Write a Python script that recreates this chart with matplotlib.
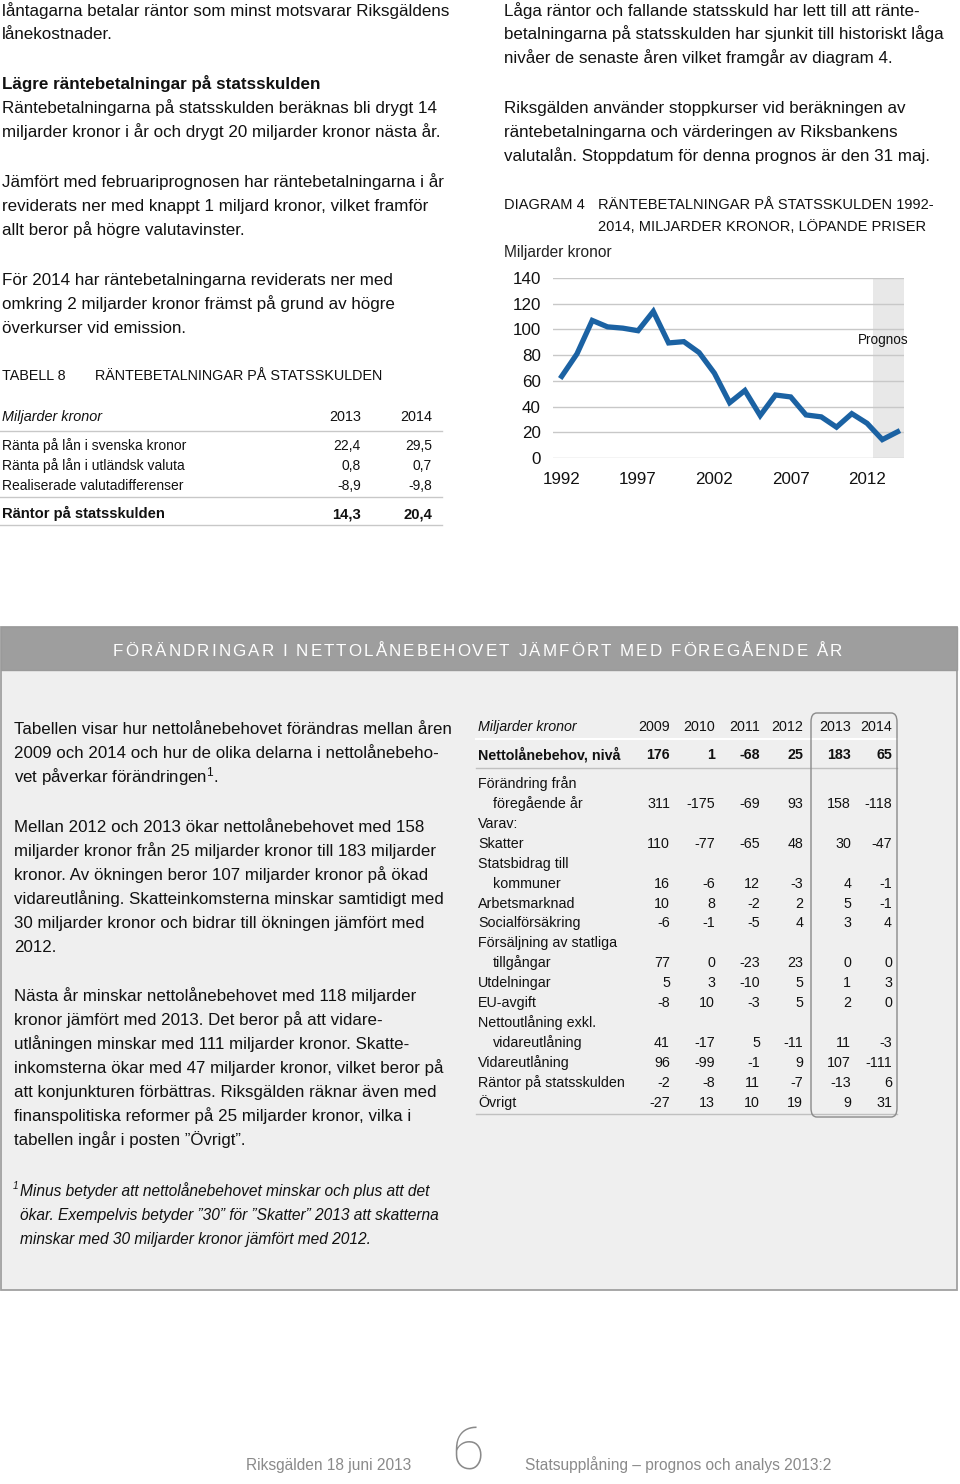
import matplotlib
matplotlib.use("Agg")
import matplotlib.pyplot as plt
from matplotlib.patches import Rectangle, FancyBboxPatch
from matplotlib.font_manager import FontProperties

# ---------------- data ----------------
years = list(range(1992, 2015))
interest = [63.5, 81, 107, 102, 101, 99, 114, 89.5, 90.5, 82, 66, 43, 52.5, 33,
            49, 47.5, 33.5, 32, 24, 34.5, 27, 14.3, 20.4]
yticks = [0, 20, 40, 60, 80, 100, 120, 140]
xticks = [1992, 1997, 2002, 2007, 2012]

tab8_cols = ["2013", "2014"]
tab8_rows = ["Ränta på lån i svenska kronor", "Ränta på lån i utländsk valuta",
             "Realiserade valutadifferenser"]
tab8_vals = [["22,4", "29,5"], ["0,8", "0,7"], ["-8,9", "-9,8"]]
tab8_total = ["Räntor på statsskulden", "14,3", "20,4"]

nl_years = ["2009", "2010", "2011", "2012", "2013", "2014"]
nl_level = ["Nettolånebehov, nivå", "176", "1", "-68", "25", "183", "65"]
nl_rows = [
    ("Förändring från", None, False),
    ("föregående år", ["311", "-175", "-69", "93", "158", "-118"], True),
    ("Varav:", None, False),
    ("Skatter", ["110", "-77", "-65", "48", "30", "-47"], False),
    ("Statsbidrag till", None, False),
    ("kommuner", ["16", "-6", "12", "-3", "4", "-1"], True),
    ("Arbetsmarknad", ["10", "8", "-2", "2", "5", "-1"], False),
    ("Socialförsäkring", ["-6", "-1", "-5", "4", "3", "4"], False),
    ("Försäljning av statliga", None, False),
    ("tillgångar", ["77", "0", "-23", "23", "0", "0"], True),
    ("Utdelningar", ["5", "3", "-10", "5", "1", "3"], False),
    ("EU-avgift", ["-8", "10", "-3", "5", "2", "0"], False),
    ("Nettoutlåning exkl.", None, False),
    ("vidareutlåning", ["41", "-17", "5", "-11", "11", "-3"], True),
    ("Vidareutlåning", ["96", "-99", "-1", "9", "107", "-111"], False),
    ("Räntor på statsskulden", ["-2", "-8", "11", "-7", "-13", "6"], False),
    ("Övrigt", ["-27", "13", "10", "19", "9", "31"], False),
]

W, H = 960, 1484
plt.rcParams['font.family'] = ['Liberation Sans', 'DejaVu Sans']
plt.rcParams['mathtext.fontset'] = 'custom'
plt.rcParams['mathtext.rm'] = 'Liberation Sans'
plt.rcParams['mathtext.it'] = 'Liberation Sans:italic'
fig = plt.figure(figsize=(W / 100, H / 100), dpi=100)
fig.patch.set_facecolor("white")

def fx(x):
    return x / W

def fy(y):
    return 1 - y / H

def pt(px):
    return px * 0.72

def T(x, yc, s, px=16, ha='left', **kw):
    # yc = approximate visual center of text line (pixel, from top)
    fig.text(fx(x), fy(yc + 0.36 * px), s, fontsize=pt(px), ha=ha, va='baseline', **kw)

def HL(x0, x1, y, color="#c8c8c8", lw=1.0, z=3):
    fig.add_artist(plt.Line2D([fx(x0), fx(x1)], [fy(y), fy(y)], color=color, lw=lw,
                              transform=fig.transFigure, zorder=z))

# ---------------- top-left text ----------------
BODY = 17
left_lines = [
    (10, "låntagarna betalar räntor som minst motsvarar Riksgäldens", 'normal'),
    (33, "lånekostnader.", 'normal'),
    (83, "Lägre räntebetalningar på statsskulden", 'bold'),
    (107, "Räntebetalningarna på statsskulden beräknas bli drygt 14", 'normal'),
    (131, "miljarder kronor i år och drygt 20 miljarder kronor nästa år.", 'normal'),
    (181, "Jämfört med februariprognosen har räntebetalningarna i år", 'normal'),
    (205, "reviderats ner med knappt 1 miljard kronor, vilket framför", 'normal'),
    (229, "allt beror på högre valutavinster.", 'normal'),
    (279, "För 2014 har räntebetalningarna reviderats ner med", 'normal'),
    (303, "omkring 2 miljarder kronor främst på grund av högre", 'normal'),
    (327, "överkurser vid emission.", 'normal'),
]
for yc, s, w in left_lines:
    T(2, yc, s, BODY, weight=w, color="#111111")

# Table 8
T(2, 375, "TABELL 8", 14.4, color="#111111")
T(95, 375, "RÄNTEBETALNINGAR PÅ STATSSKULDEN", 14.4, color="#111111")
T(2, 416, "Miljarder kronor", 14.4, style='italic', color="#111111")
col8 = [361, 432]
for c, lab in zip(col8, tab8_cols):
    T(c, 416, lab, 14.4, ha='right', color="#111111")
HL(0, 442, 431)
for i, (lab, vals) in enumerate(zip(tab8_rows, tab8_vals)):
    yc = 445 + 20 * i
    T(2, yc, lab, 13.9, color="#111111")
    for c, v in zip(col8, vals):
        T(c, yc, v, 13.9, ha='right', color="#111111")
HL(0, 442, 497)
T(2, 513, tab8_total[0], 14.8, weight='bold', color="#111111")
for c, v in zip(col8, tab8_total[1:]):
    T(c, 513, v, 14.8, ha='right', weight='bold', color="#111111")
HL(0, 442, 525)

# ---------------- top-right text ----------------
right_lines = [
    (10, "Låga räntor och fallande statsskuld har lett till att ränte-"),
    (33, "betalningarna på statsskulden har sjunkit till historiskt låga"),
    (57, "nivåer de senaste åren vilket framgår av diagram 4."),
    (107, "Riksgälden använder stoppkurser vid beräkningen av"),
    (131, "räntebetalningarna och värderingen av Riksbankens"),
    (155, "valutalån. Stoppdatum för denna prognos är den 31 maj."),
]
for yc, s in right_lines:
    T(504, yc, s, BODY, color="#111111")
T(504, 204, "DIAGRAM 4", 14.6, color="#111111")
T(598, 204, "RÄNTEBETALNINGAR PÅ STATSSKULDEN 1992-", 14.6, color="#111111")
T(598, 226, "2014, MILJARDER KRONOR, LÖPANDE PRISER", 14.6, color="#111111")
T(504, 251, "Miljarder kronor", 15.5, color="#222222")

# ---------------- chart ----------------
ax_l, ax_r, ax_t, ax_b = 553, 904, 278, 458
ax = fig.add_axes([fx(ax_l), fy(ax_b), (ax_r - ax_l) / W, (ax_b - ax_t) / H])
ax.set_xlim(1991.43, 2014.42)
ax.set_ylim(0, 140)
ax.axvspan(2012.4, 2014.42, color="#e8e8e8", zorder=0, lw=0)
for v in yticks:
    ax.axhline(v, color="#c8c8c8", lw=1.0, zorder=1)
ax.plot(years, interest, color="#1b62a3", lw=3.8, solid_joinstyle='miter', zorder=3)
ax.set_yticks(yticks)
ax.set_xticks(xticks)
ax.tick_params(length=0, labelsize=pt(17), colors="#111111")
ax.tick_params(axis='y', pad=pt(12))
ax.tick_params(axis='x', pad=pt(14))
for sp in ax.spines.values():
    sp.set_visible(False)
ax.set_facecolor("none")
ax.text(2013.05, 92, "Prognos", ha='center', va='center', fontsize=pt(13.5), color="#111111")

# ---------------- box ----------------
fig.add_artist(Rectangle((fx(1), fy(1290)), (957 - 1) / W, (1290 - 627) / H,
                         transform=fig.transFigure, facecolor="#efefef",
                         edgecolor="#a0a0a0", lw=1.3, zorder=0))
fig.add_artist(Rectangle((fx(1), fy(670)), (957 - 1) / W, (670 - 627) / H,
                         transform=fig.transFigure, facecolor="#9e9e9e",
                         edgecolor="#9a9a9a", lw=1.0, zorder=1))

# letter-spaced header
title = "FÖRÄNDRINGAR I NETTOLÅNEBEHOVET JÄMFÖRT MED FÖREGÅENDE ÅR"
fp = FontProperties(family=['Liberation Sans', 'DejaVu Sans'], size=pt(17))
renderer = fig.canvas.get_renderer()
widths = []
for ch in title:
    if ch == " ":
        w, _, _ = renderer.get_text_width_height_descent("a a", fp, ismath=False)
        w2, _, _ = renderer.get_text_width_height_descent("aa", fp, ismath=False)
        widths.append(w - w2)
    else:
        w, _, _ = renderer.get_text_width_height_descent(ch, fp, ismath=False)
        widths.append(w)
target_l, target_r = 113, 842
extra = ((target_r - target_l) - sum(widths)) / (len(title) - 1)
x = target_l
for ch, w in zip(title, widths):
    fig.text(fx(x), fy(650 + 0.36 * 17), ch, fontproperties=fp, color="white",
             ha='left', va='baseline', zorder=5)
    x += w + extra

BOX = 16.9
box_lines = [
    (728, "Tabellen visar hur nettolånebehovet förändras mellan åren"),
    (752, "2009 och 2014 och hur de olika delarna i nettolånebeho-"),
    (776, "vet påverkar förändringen$^{1}$."),
    (826, "Mellan 2012 och 2013 ökar nettolånebehovet med 158"),
    (850, "miljarder kronor från 25 miljarder kronor till 183 miljarder"),
    (874, "kronor. Av ökningen beror 107 miljarder kronor på ökad"),
    (898, "vidareutlåning. Skatteinkomsterna minskar samtidigt med"),
    (922, "30 miljarder kronor och bidrar till ökningen jämfört med"),
    (946, "2012."),
    (995, "Nästa år minskar nettolånebehovet med 118 miljarder"),
    (1019, "kronor jämfört med 2013. Det beror på att vidare-"),
    (1043, "utlåningen minskar med 111 miljarder kronor. Skatte-"),
    (1067, "inkomsterna ökar med 47 miljarder kronor, vilket beror på"),
    (1091, "att konjunkturen förbättras. Riksgälden räknar även med"),
    (1115, "finanspolitiska reformer på 25 miljarder kronor, vilka i"),
    (1139, "tabellen ingår i posten \u201dÖvrigt\u201d."),
]
for yc, s in box_lines:
    T(14, yc, s, BOX, color="#111111")

T(13, 1185, "1", 10, style='italic', color="#111111")
foot = [
    (1190, "Minus betyder att nettolånebehovet minskar och plus att det"),
    (1214, "ökar. Exempelvis betyder \u201d30\u201d för \u201dSkatter\u201d 2013 att skatterna"),
    (1238, "minskar med 30 miljarder kronor jämfört med 2012."),
]
for yc, s in foot:
    T(20, yc, s, 15.5, style='italic', color="#111111")

# right table inside box
cols = [670, 715, 760, 803, 851, 892]
TF = 14.2
T(478, 726, "Miljarder kronor", TF, style='italic', color="#111111")
for c, yl in zip(cols, nl_years):
    T(c, 726, yl, TF, ha='right', color="#111111")
HL(476, 897, 739, color="#ffffff", lw=1.5)
T(478, 754, nl_level[0], TF, weight='bold', color="#111111")
for c, v in zip(cols, nl_level[1:]):
    T(c, 754, v, TF, ha='right', weight='bold', color="#111111")
HL(476, 897, 768, color="#c0c0c0", lw=1.0)
yc = 783
for lab, vals, indent in nl_rows:
    T(493 if indent else 478, yc, lab, TF, color="#111111")
    if vals:
        for c, v in zip(cols, vals):
            T(c, yc, v, TF, ha='right', color="#111111")
    yc += 19.9
HL(476, 897, 1114, color="#c0c0c0", lw=1.0)
fig.add_artist(FancyBboxPatch((fx(811), fy(1117)), (897 - 811) / W, (1117 - 713) / H,
                              boxstyle="round,pad=0,rounding_size=0.006",
                              transform=fig.transFigure, facecolor="none",
                              edgecolor="#8a8a8a", lw=1.0, zorder=4))

# ---------------- footer ----------------
T(411, 1464, "Riksgälden 18 juni 2013", 15.5, ha='right', color="#8a8a8a")
fig.text(fx(468), fy(1470), "6", fontsize=43, ha='center', va='baseline',
         color="#8a8a8a", family=['Roboto', 'DejaVu Sans'], weight='light')
T(525, 1464, "Statsupplåning \u2013 prognos och analys 2013:2", 15.5, color="#8a8a8a")

fig.savefig("out.png", dpi=100, facecolor="white")
